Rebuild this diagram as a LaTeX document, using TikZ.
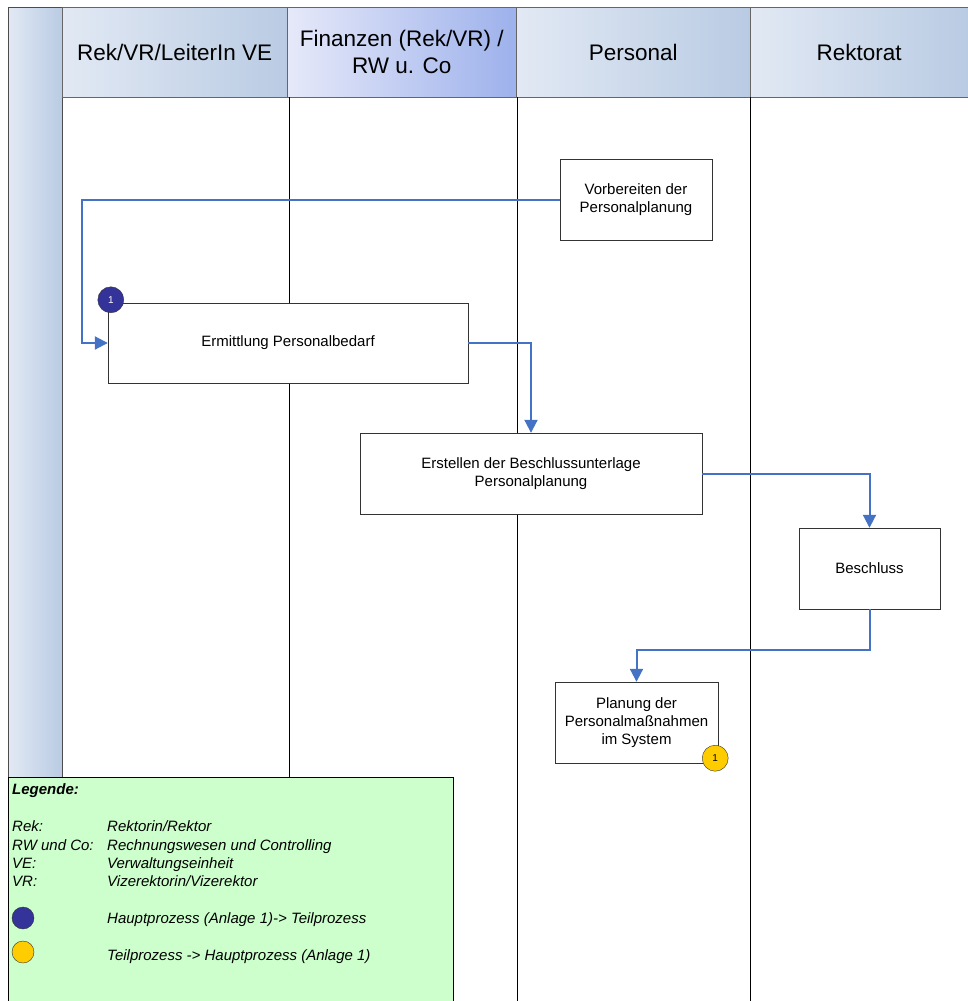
\documentclass[tikz,border=0pt]{standalone}
\usepackage{fontspec}
\setmainfont{Liberation Sans}
\usetikzlibrary{arrows.meta,positioning}
\definecolor{flowblue}{HTML}{4472C4}
\definecolor{headlight}{HTML}{E2E9F4}
\definecolor{headdark}{HTML}{B9CBE3}
\definecolor{finlight}{HTML}{E6E9F9}
\definecolor{findark}{HTML}{9DB1EB}
\definecolor{legendgreen}{HTML}{CCFFCC}
\definecolor{markerblue}{HTML}{333399}
\definecolor{markeryellow}{HTML}{FFCC00}

\begin{document}
\begin{tikzpicture}
  [x=1pt, y=-1pt,
   lanehead/.style={draw=black!60, left color=headlight, right color=headdark, anchor=north west,
                    minimum height=90pt, inner sep=0pt, align=center, font=\fontsize{22.5}{27}\selectfont},
   task/.style={draw=black!80, fill=white, align=center, inner sep=0pt, font=\fontsize{15}{18}\selectfont},
   flow/.style={draw=flowblue, line width=2pt, -{Triangle[length=13pt,width=13pt]}},
   marker/.style={circle, draw=black!80, minimum size=26pt, inner sep=0pt, font=\fontsize{10}{10}\selectfont},
   legtext/.style={anchor=base west, inner sep=0pt, font=\fontsize{15}{18}\selectfont\itshape}]
  \useasboundingbox (0,0) rectangle (968,1001);

  % lanes
  \node [draw=black!70, left color=headlight, right color=headdark, anchor=north west,
         minimum width=54pt, minimum height=770pt, inner sep=0pt] (stripe) at (8,7) {};
  \node [lanehead, minimum width=225pt] (laneA) at (62,7) {Rek/VR/LeiterIn VE};
  \node [lanehead, minimum width=229pt, left color=finlight, right color=findark] (laneB) at (287,7) {Finanzen (Rek/VR) /\\RW u. Co};
  \node [lanehead, minimum width=234pt] (laneC) at (516,7) {Personal};
  \node [lanehead, minimum width=218pt] (laneD) at (750,7) {Rektorat};
  \coordinate (endB) at (289,777);
  \coordinate (endC) at (517,1001);
  \coordinate (endD) at (750,1001);
  \draw (endB |- laneA.south) -- (endB);
  \draw (endC |- laneC.south) -- (endC);
  \draw (endD |- laneD.south) -- (endD);

  % tasks
  \node [task, minimum width=152pt, minimum height=81pt] (vorb) at (636,199.5) {Vorbereiten der\\Personalplanung};
  \node [task, minimum width=360pt, minimum height=80pt] (ermitt) at (288,343) {Ermittlung Personalbedarf};
  \node [task, minimum width=342pt, minimum height=81pt] (erstell) at (531,473.5) {Erstellen der Beschlussunterlage\\Personalplanung};
  \node [task, minimum width=141pt, minimum height=81pt] (beschl) at (869.5,568.5) {Beschluss};
  \node [task, minimum width=163pt, minimum height=81pt] (plan) at (636.5,722.5) {Planung der\\Personalmaßnahmen\\im System};

  \node [marker, fill=markerblue, text=white] (mA) at ([shift={(3,-3)}]ermitt.north west) {1};
  \node [marker, fill=markeryellow] (mB) at ([shift={(-3,-5)}]plan.south east) {1};

  % flows
  \draw [flow] (vorb.west) -- ++(-478,0) |- (ermitt.west);
  \draw [flow] (ermitt.east) -| (erstell.north);
  \draw [flow] (erstell.east) -| (beschl.north);
  \draw [flow] (beschl.south) -- ++(0,41) -| (plan.north);

  % legend
  \node [draw=black, fill=legendgreen, anchor=north west, minimum width=445pt, minimum height=230pt,
         inner sep=0pt] (legend) at (8,777) {};
  \node [legtext, font=\fontsize{15}{18}\selectfont\bfseries\itshape] (legtitle) at (12,794) {Legende:};
  \node [legtext] (abbA) at (12,831) {Rek:};
  \node [legtext] (abbB) at (12,850) {RW und Co:};
  \node [legtext] (abbC) at (12,868) {VE:};
  \node [legtext] (abbD) at (12,886) {VR:};
  \node [legtext] (defA) at (107,831) {Rektorin/Rektor};
  \node [legtext] (defB) at (107,850) {Rechnungswesen und Controlling};
  \node [legtext] (defC) at (107,868) {Verwaltungseinheit};
  \node [legtext] (defD) at (107,886) {Vizerektorin/Vizerektor};
  \node [marker, fill=markerblue, minimum size=22pt] (legA) at (23,918) {};
  \node [marker, fill=markeryellow, minimum size=22pt] (legB) at (23,952) {};
  \node [legtext] (legAtext) at (107,923) {Hauptprozess (Anlage 1)-> Teilprozess};
  \node [legtext] (legBtext) at (107,960) {Teilprozess -> Hauptprozess (Anlage 1)};
\end{tikzpicture}
\end{document}
